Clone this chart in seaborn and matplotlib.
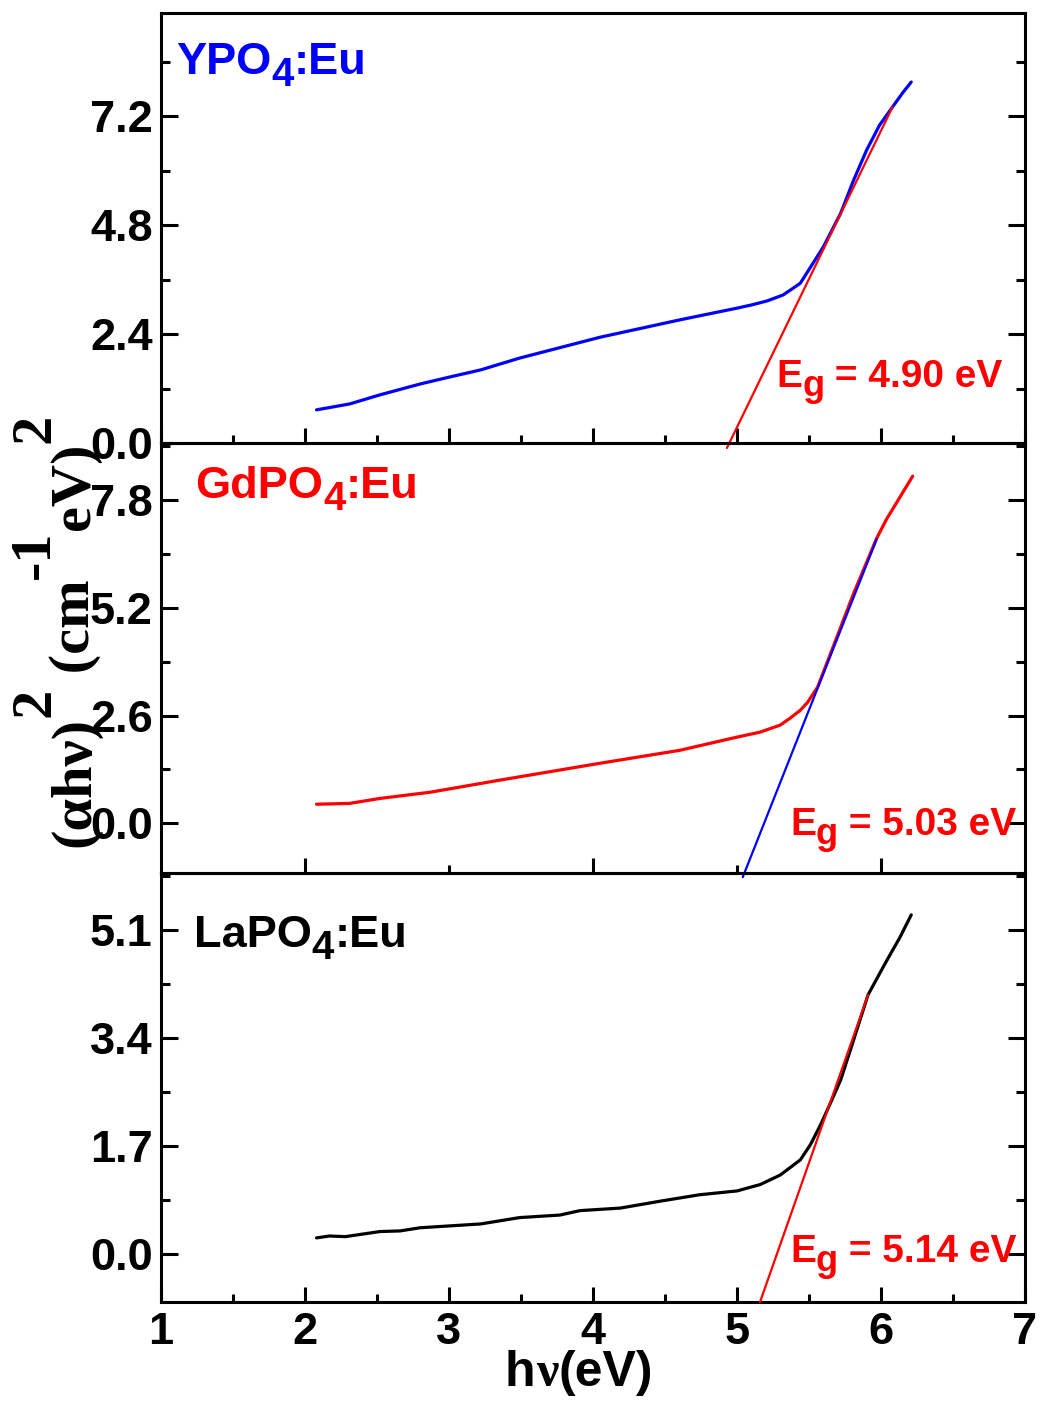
import matplotlib
matplotlib.use("Agg")
import matplotlib.pyplot as plt
import seaborn as sns
import pandas as pd
from matplotlib.ticker import FixedLocator, FormatStrFormatter, NullFormatter

# ---------------- data ----------------
ypo_x = [2.08, 2.31, 2.52, 2.80, 3.00, 3.22, 3.49, 4.05, 4.60, 5.00, 5.10, 5.21,
         5.32, 5.39, 5.44, 5.51, 5.60, 5.72, 5.81, 5.90, 5.99, 6.08, 6.15, 6.21]
ypo_y = [0.73, 0.86, 1.06, 1.30, 1.45, 1.61, 1.87, 2.33, 2.71, 2.97, 3.04, 3.13,
         3.26, 3.41, 3.52, 3.87, 4.32, 5.06, 5.79, 6.45, 7.00, 7.40, 7.71, 7.95]
ypo_fit_x = [4.93, 6.08]
ypo_fit_y = [-0.11, 7.40]

gd_x = [2.08, 2.31, 2.52, 2.87, 3.35, 4.05, 4.60, 5.00, 5.16, 5.30, 5.37, 5.44,
        5.49, 5.56, 5.65, 5.81, 5.97, 6.04, 6.11, 6.22]
gd_y = [0.46, 0.48, 0.60, 0.75, 1.04, 1.45, 1.76, 2.08, 2.20, 2.37, 2.54, 2.73,
        2.92, 3.29, 4.10, 5.55, 6.88, 7.35, 7.75, 8.38]
gd_fit_x = [5.04, 5.97]
gd_fit_y = [-1.30, 6.86]

la_x = [2.08, 2.17, 2.28, 2.52, 2.66, 2.80, 3.01, 3.22, 3.49, 3.77, 3.91, 4.19,
        4.47, 4.74, 5.00, 5.16, 5.30, 5.44, 5.51, 5.58, 5.65, 5.72, 5.80, 5.91,
        5.97, 6.03, 6.13, 6.21]
la_y = [0.25, 0.28, 0.27, 0.35, 0.36, 0.41, 0.44, 0.47, 0.57, 0.61, 0.68, 0.72,
        0.83, 0.93, 0.99, 1.09, 1.24, 1.48, 1.72, 2.03, 2.38, 2.74, 3.30, 4.08,
        4.33, 4.58, 4.98, 5.34]
la_fit_x = [5.16, 5.91]
la_fit_y = [-0.76, 4.08]

names = ["YPO", "GdPO", "LaPO"]
name_colors = ["#0000FF", "#FF0000", "#000000"]
curve_colors = ["#0000FF", "#FF0000", "#000000"]
fit_colors = ["#FF0000", "#0000FF", "#FF0000"]
eg_values = ["4.90", "5.03", "5.14"]

y_major = [[0.0, 2.4, 4.8, 7.2], [0.0, 2.6, 5.2, 7.8], [0.0, 1.7, 3.4, 5.1]]
y_minor = [[1.2, 3.6, 6.0, 8.4], [1.3, 3.9, 6.5, 9.1], [0.85, 2.55, 4.25, 5.95]]
y_lims = [(0.0, 9.47), (-1.2, 9.18), (-0.76, 6.0)]
x_major = [[1, 2, 3, 4, 5, 6, 7], [2, 4, 6], [1, 2, 3, 4, 5, 6, 7]]
x_minor = [[1.5, 2.5, 3.5, 4.5, 5.5, 6.5], [3, 5], [1.5, 2.5, 3.5, 4.5, 5.5, 6.5]]

# ---------------- style ----------------
sns.set_style("ticks")
plt.rcParams["font.family"] = ["Liberation Sans", "DejaVu Sans"]
plt.rcParams["font.weight"] = "bold"

W, H = 1045, 1401
fig = plt.figure(figsize=(W / 100, H / 100), dpi=100)
fig.patch.set_facecolor("white")
renderer = fig.canvas.get_renderer()

L, R = 161, 1025
panels = [(13, 443), (443, 873), (873, 1302)]
curves = [(ypo_x, ypo_y, ypo_fit_x, ypo_fit_y),
          (gd_x, gd_y, gd_fit_x, gd_fit_y),
          (la_x, la_y, la_fit_x, la_fit_y)]

axes = []
for i, (top, bot) in enumerate(panels):
    ax = fig.add_axes([L / W, 1 - bot / H, (R - L) / W, (bot - top) / H])
    ax.patch.set_visible(False)
    cx, cy, fx, fy = curves[i]
    df = pd.DataFrame({"x": cx, "y": cy})
    dfit = pd.DataFrame({"x": fx, "y": fy})
    sns.lineplot(data=df, x="x", y="y", ax=ax, color=curve_colors[i],
                 linewidth=2.3, sort=False, estimator=None, zorder=3,
                 solid_joinstyle="round", solid_capstyle="round")
    sns.lineplot(data=dfit, x="x", y="y", ax=ax, color=fit_colors[i],
                 linewidth=1.6, sort=False, estimator=None, zorder=4, clip_on=False)
    ax.set_xlim(1, 7)
    ax.set_ylim(*y_lims[i])
    ax.set_xlabel("")
    ax.set_ylabel("")
    ax.yaxis.set_major_locator(FixedLocator(y_major[i]))
    ax.yaxis.set_minor_locator(FixedLocator(y_minor[i]))
    ax.yaxis.set_major_formatter(FormatStrFormatter("%.1f"))
    ax.xaxis.set_major_locator(FixedLocator(x_major[i]))
    ax.xaxis.set_minor_locator(FixedLocator(x_minor[i]))
    for sp in ax.spines.values():
        sp.set_visible(True)
        sp.set_linewidth(2.2)
        sp.set_color("black")
    ax.tick_params(axis="y", which="both", direction="in", left=True, right=True,
                   width=2.2, labelsize=32.5, pad=6, colors="black")
    ax.tick_params(axis="y", which="major", length=12)
    ax.tick_params(axis="y", which="minor", length=6.5)
    ax.tick_params(axis="x", which="both", direction="in", bottom=True, top=False,
                   width=2.2, labelsize=32.5, pad=7, colors="black")
    ax.tick_params(axis="x", which="major", length=11)
    ax.tick_params(axis="x", which="minor", length=6)
    if i < 2:
        ax.xaxis.set_major_formatter(NullFormatter())
    else:
        ax.xaxis.set_major_formatter(FormatStrFormatter("%d"))
    axes.append(ax)


# ---------------- rich text helpers ----------------
def runs_h(x, y, runs, color):
    """runs: (text, fontsize, drop_px, family)"""
    for s, fs, drop, fam in runs:
        t = fig.text(x / W, 1 - (y + drop) / H, s, fontsize=fs, color=color,
                     family=fam, fontweight="bold", ha="left", va="baseline")
        x += t.get_window_extent(renderer).width


def runs_v(x, y, runs, color):
    """vertical text going upward; x is baseline, y is start (bottom)."""
    for s, fs, rise, fam in runs:
        t = fig.text((x - rise) / W, 1 - y / H, s, fontsize=fs, color=color,
                     family=fam, fontweight="bold", ha="left", va="baseline",
                     rotation=90, rotation_mode="anchor")
        y -= t.get_window_extent(renderer).height


sans = ["Liberation Sans", "DejaVu Sans"]
serif = ["Liberation Serif", "DejaVu Serif"]

# panel names
name_pos = [(176, 74), (195, 498), (194, 947)]
for i, (px, py) in enumerate(name_pos):
    runs_h(px, py, [(names[i], 32.5, 0, sans), ("4", 29, 12, sans), (":Eu", 32.5, 0, sans)],
           name_colors[i])

# band-gap annotations
eg_pos = [(776, 387), (790, 835), (790, 1262)]
for i, (px, py) in enumerate(eg_pos):
    runs_h(px, py, [("E", 28, 0, sans), ("g", 26, 9, sans),
                    (" = " + eg_values[i] + " eV", 28, 0, sans)], "#FF0000")

# x label
runs_h(505, 1386, [("h", 36, 0, sans), ("\u03bd", 36, 0, serif), ("(eV)", 36, 0, sans)],
       "black")

# y label
runs_v(89, 847, [("(\u03b1h\u03bd)", 42, 0, serif), ("2", 42, 40, serif),
                 (" (cm", 42, 0, serif), ("-1", 42, 40, serif),
                 ("eV)", 42, 0, serif), ("2", 42, 40, serif)], "black")

fig.savefig("out.png", dpi=100, facecolor="white")
